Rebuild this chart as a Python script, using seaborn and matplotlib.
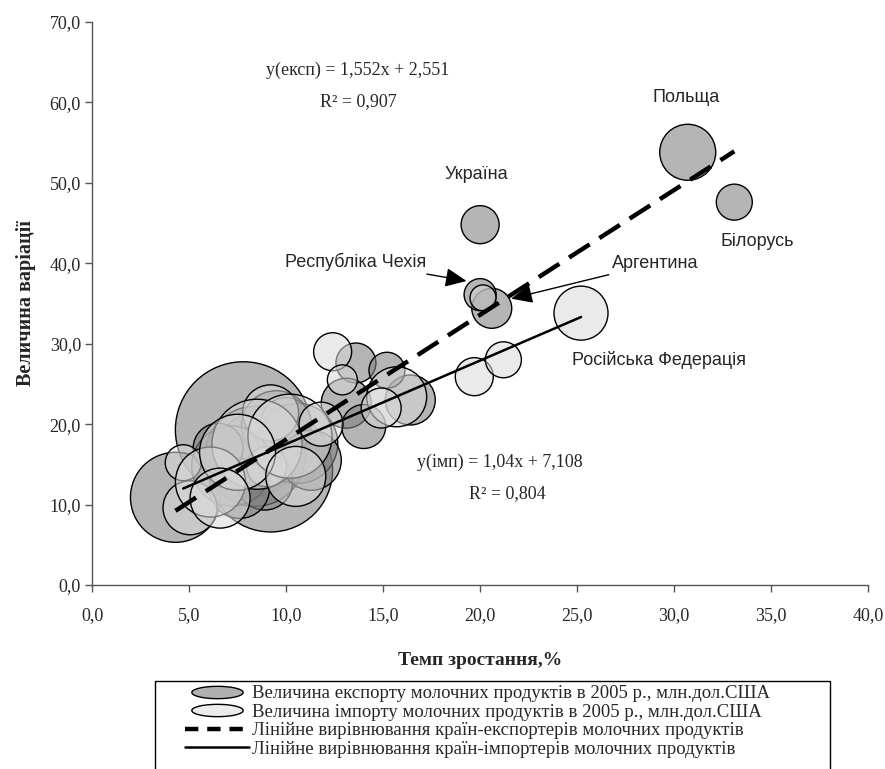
import numpy as np
import pandas as pd
import matplotlib
matplotlib.use("Agg")
import matplotlib.pyplot as plt
import seaborn as sns
from matplotlib.lines import Line2D
from matplotlib.path import Path
from matplotlib.patches import Rectangle

# ─────────────────────────────────────────
# Data
# ─────────────────────────────────────────
# exporters: growth rate (%), variation, export value (mln USD)
exp_growth = [30.7, 33.1, 20.0, 20.6, 20.0, 13.6, 13.1, 16.4, 14.0, 15.2,
              7.8, 4.3, 9.2, 8.4, 9.5, 10.6, 7.2, 8.9, 10.0, 7.6, 11.3, 6.5]
exp_var = [53.8, 47.6, 44.8, 34.4, 36.1, 27.6, 22.6, 23.0, 19.7, 26.7,
           19.3, 10.9, 14.3, 16.0, 19.8, 17.6, 14.8, 12.8, 20.2, 12.0, 15.5, 17.0]
exp_value = [373, 154, 172, 190, 122, 190, 297, 297, 230, 154,
             2200, 964, 1829, 1190, 583, 761, 761, 373, 297, 428, 428, 297]

# importers
imp_growth = [25.2, 19.7, 21.2, 20.15, 12.4, 15.7, 14.9, 12.9, 4.7, 5.05,
              9.0, 9.2, 8.5, 10.2, 6.1, 7.5, 11.8, 6.6, 10.5]
imp_var = [33.8, 25.9, 28.0, 35.7, 29.0, 23.4, 22.0, 25.5, 15.2, 9.6,
           14.7, 21.4, 17.5, 18.5, 12.8, 16.5, 20.0, 10.8, 13.5]
imp_value = [347, 172, 154, 80, 172, 428, 190, 107, 154, 347,
             190, 373, 964, 840, 583, 687, 230, 428, 428]

# trend lines (from the chart)
exp_slope, exp_intercept, exp_r2 = 1.552, 2.551, 0.907
imp_slope, imp_intercept, imp_r2 = 1.04, 7.108, 0.804

# country labels: name, x, y
country_labels = [
    ("Польща", 30.6, 60.6),
    ("Україна", 19.8, 51.0),
    ("Білорусь", 34.3, 42.7),
    ("Російська Федерація", 29.2, 28.0),
]

legend_labels = [
    "Величина експорту молочних продуктів в 2005 р., млн.дол.США",
    "Величина імпорту молочних продуктів в 2005 р., млн.дол.США",
    "Лінійне вирівнювання країн-експортерів молочних продуктів",
    "Лінійне вирівнювання країн-імпортерів молочних продуктів",
]

df_exp = pd.DataFrame({"growth": exp_growth, "var": exp_var, "value": exp_value})
df_imp = pd.DataFrame({"growth": imp_growth, "var": imp_var, "value": imp_value})

# ─────────────────────────────────────────
# Plot
# ─────────────────────────────────────────
sns.set_style("white")
plt.rcParams["font.family"] = ["Liberation Serif", "DejaVu Serif"]

fig = plt.figure(figsize=(8.85, 7.69), dpi=100)
ax = fig.add_axes([0.104, 0.2393, 0.877, 0.7321])

vmax = max(max(exp_value), max(imp_value))
smax = (1.44 * 68) ** 2 * vmax / 2200  # area proportional to value

common = dict(size="value", sizes=(0, smax), size_norm=(0, vmax),
              edgecolor="black", linewidth=1.0, legend=False, ax=ax)
sns.scatterplot(data=df_exp, x="growth", y="var",
                color=(0.5, 0.5, 0.5, 0.58), **common)
sns.scatterplot(data=df_imp, x="growth", y="var",
                color=(0.85, 0.85, 0.85, 0.55), **common)

# trend lines over the data range
xe = np.array([min(exp_growth), max(exp_growth)])
xi = np.array([min(imp_growth), max(imp_growth)])
sns.lineplot(x=xe, y=exp_slope * xe + exp_intercept, color="black",
             lw=3.2, dashes=False, linestyle=(0, (5.5, 2.6)), ax=ax)
sns.lineplot(x=xi, y=imp_slope * xi + imp_intercept, color="black",
             lw=1.8, ax=ax)

ax.set_xlim(0, 40)
ax.set_ylim(0, 70)
ax.set_xticks(np.arange(0, 40.1, 5))
ax.set_yticks(np.arange(0, 70.1, 10))
ax.set_xticklabels([f"{v:.1f}".replace(".", ",") for v in ax.get_xticks()], fontsize=13)
ax.set_yticklabels([f"{v:.1f}".replace(".", ",") for v in ax.get_yticks()], fontsize=13)
ax.tick_params(axis="both", direction="out", length=5, width=1, color="#555555",
               left=True, bottom=True)
ax.tick_params(axis="x", pad=11)
ax.tick_params(axis="y", pad=3)
for s in ["top", "right"]:
    ax.spines[s].set_visible(False)
for s in ["left", "bottom"]:
    ax.spines[s].set_color("#555555")
    ax.spines[s].set_linewidth(1)

ax.set_xlabel("Темп зростання,%", fontsize=14, fontweight="bold", labelpad=20)
ax.set_ylabel("Величина варіації", fontsize=14.5, fontweight="bold", labelpad=10)

# equations
ax.text(13.7, 64.0, f"y(експ) = {exp_slope:.3f}x + {exp_intercept:.3f}".replace(".", ","),
        ha="center", va="center", fontsize=13)
ax.text(13.7, 60.1, f"R² = {exp_r2:.3f}".replace(".", ","),
        ha="center", va="center", fontsize=13)
ax.text(21.0, 15.3, f"y(імп) = {imp_slope:.2f}x + {imp_intercept:.3f}".replace(".", ","),
        ha="center", va="center", fontsize=13)
ax.text(21.4, 11.4, f"R² = {imp_r2:.3f}".replace(".", ","),
        ha="center", va="center", fontsize=13)

# country labels
sans = ["Liberation Sans", "DejaVu Sans"]
for name, x, y in country_labels:
    ax.text(x, y, name, ha="center", va="center", fontsize=13, family=sans)

arrow = dict(arrowstyle="-|>,head_length=1.0,head_width=0.45", color="black",
             lw=1, shrinkA=0, shrinkB=0)
ax.annotate("Республіка Чехія", xy=(19.3, 37.8), xytext=(17.2, 40.2),
            ha="right", va="center", fontsize=13, family=sans, arrowprops=arrow)
ax.annotate("Аргентина", xy=(21.6, 35.6), xytext=(26.8, 40.0),
            ha="left", va="center", fontsize=13, family=sans, arrowprops=arrow)

# legend frame (runs past the bottom edge, as in the source)
fig.patches.append(Rectangle((155 / 885, -0.05), (830 - 155) / 885, 0.05 + 88 / 769,
                             transform=fig.transFigure, fill=False,
                             edgecolor="black", lw=1))

# legend with elliptical markers
t = np.linspace(0, 2 * np.pi, 60)
ellipse = Path(np.column_stack([np.cos(t), 0.24 * np.sin(t)]), closed=True)
handles = [
    Line2D([], [], ls="none", marker=ellipse, markersize=37,
           markerfacecolor="#b0b0b0", markeredgecolor="black", markeredgewidth=1),
    Line2D([], [], ls="none", marker=ellipse, markersize=37,
           markerfacecolor="#ececec", markeredgecolor="black", markeredgewidth=1),
    Line2D([], [], color="black", lw=3.2, linestyle=(0, (3.0, 2.0))),
    Line2D([], [], color="black", lw=1.8),
]
leg = fig.legend(handles, legend_labels, loc="upper left",
                 bbox_to_anchor=(185 / 885, 1 - 685 / 769), fontsize=13.5,
                 frameon=False, borderaxespad=0, borderpad=0,
                 handlelength=3.4, handletextpad=0.2, labelspacing=0.08)

plt.savefig("out.png", dpi=100)
